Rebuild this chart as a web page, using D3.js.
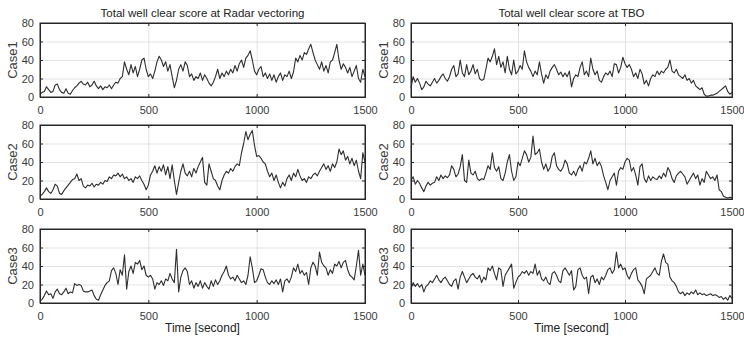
<!DOCTYPE html>
<html>
<head>
<meta charset="utf-8">
<script src="https://cdn.jsdelivr.net/npm/d3@7"></script>
<style>
  html, body { margin: 0; padding: 0; background: #fff; }
  svg { display: block; font-family: "Liberation Sans", Arial, sans-serif; }
</style>
</head>
<body>
<svg id="chart" width="744" height="338"></svg>
<script>
// Panel titles and row labels
const columnTitles = ['Total well clear score at Radar vectoring', 'Total well clear score at TBO'];
const caseLabels = ['Case1', 'Case2', 'Case3'];
const xTicks = [0, 500, 1000, 1500];
const yTicks = [0, 20, 40, 60, 80];
const xLabel = 'Time [second]';

// Samples, one every 10 s from 0 to 1500 s
const sampleStep = 10;

const radarCase1 = [3,5,6,11,8,5,6,13,14,8,5,4,9,4,3,7,10,12,15,17,14,13,16,11,13,17,12,9,12,8,
  11,10,13,9,13,16,15,20,22,38,30,24,35,26,33,22,30,40,42,30,22,25,20,28,38,44,40,33,38,28,
  35,22,10,18,30,35,28,38,34,22,25,18,22,20,26,18,24,20,15,12,16,22,30,20,26,22,28,24,30,26,
  34,28,36,40,32,42,45,50,40,28,24,30,33,22,26,20,25,18,24,16,22,26,18,24,22,28,20,27,42,38,
  45,40,48,46,52,57,48,40,35,30,38,28,34,26,38,40,48,57,40,30,36,32,26,32,22,28,34,20,16,30,22];

const tboCase1 = [10,22,16,20,15,8,11,17,14,12,16,20,15,18,22,25,20,17,22,30,34,22,25,40,26,22,35,24,28,35,
  25,30,20,18,19,30,42,38,44,52,35,44,32,38,26,44,30,24,40,25,28,34,30,50,38,32,28,22,28,24,
  38,25,15,24,20,28,32,35,30,24,27,22,26,22,28,11,20,24,22,32,38,24,28,22,42,30,24,28,18,16,
  22,26,24,28,22,36,35,26,32,43,36,32,35,30,22,26,20,30,25,14,18,12,20,24,22,28,24,28,26,30,
  32,40,28,26,30,24,22,20,24,18,20,15,18,12,10,8,10,3,1,1,2,2,3,4,6,8,10,12,6,3,5];

const radarCase2 = [3,5,8,12,8,6,10,16,14,6,5,9,12,15,18,21,22,27,20,22,14,12,15,14,17,13,16,15,18,16,
  20,19,24,22,26,25,28,24,27,22,24,20,22,18,24,22,25,20,16,10,15,26,30,36,28,35,30,37,26,35,
  22,37,20,5,18,30,38,28,25,30,24,33,28,35,40,45,18,15,38,30,22,20,14,10,20,26,30,28,33,30,
  35,38,36,50,60,73,64,70,74,58,46,47,44,40,38,30,24,28,20,26,18,12,18,14,22,26,20,28,24,32,
  25,20,22,18,24,22,26,28,25,30,34,38,32,36,30,38,34,40,54,48,52,42,46,38,44,36,42,30,22,50,40];

const tboCase2 = [20,24,16,20,17,12,8,14,18,15,17,18,24,20,26,22,25,23,26,36,32,24,27,35,48,20,18,42,28,26,
  30,22,20,22,21,28,36,32,50,34,30,35,22,20,28,40,48,30,20,24,40,36,44,52,48,40,45,68,48,50,
  54,40,32,38,30,34,46,50,36,32,30,34,42,38,28,26,30,25,32,36,30,40,38,44,52,38,44,36,40,35,
  25,18,10,20,24,28,15,30,34,32,40,44,42,30,34,26,15,35,38,22,18,25,20,24,22,21,25,22,28,24,
  34,30,22,18,25,28,30,27,24,16,20,24,28,22,26,15,22,18,30,26,22,24,20,26,10,8,3,2,1,2,1];

const radarCase3 = [2,4,8,13,9,10,5,12,15,10,9,12,16,10,12,11,21,19,20,19,13,12,12,13,14,8,4,3,9,14,
  19,22,24,35,38,32,20,36,30,52,15,34,40,32,44,42,46,36,40,30,28,30,26,15,22,20,24,19,26,24,
  32,26,22,58,12,28,35,38,34,20,24,16,22,18,24,16,22,18,15,24,18,25,20,24,30,34,40,30,26,28,
  24,30,26,22,24,20,30,50,38,22,24,30,37,36,28,22,20,24,21,25,20,26,12,24,26,22,28,38,34,42,
  32,35,30,33,20,38,44,40,30,55,44,40,38,30,36,32,42,40,45,38,44,46,36,30,28,25,40,57,30,42,30];

const tboCase3 = [15,22,18,21,17,20,12,18,20,24,22,26,30,25,22,26,28,24,20,18,24,26,15,28,34,28,22,26,30,32,
  28,26,30,22,28,25,38,35,40,32,25,38,36,18,30,34,38,42,16,22,28,30,34,32,35,30,34,32,42,30,
  35,26,24,28,22,20,32,34,30,24,22,35,38,34,30,35,14,18,36,38,30,26,28,10,28,30,22,26,20,28,
  25,30,36,38,32,36,55,38,42,36,38,30,26,32,36,38,25,22,18,10,26,28,30,34,38,32,30,45,53,44,
  42,28,24,22,18,12,10,12,8,11,9,12,10,14,9,11,9,10,8,9,10,8,9,8,6,7,4,6,3,8,5];

const panels = [
  { col: 0, row: 0, values: radarCase1 },
  { col: 1, row: 0, values: tboCase1 },
  { col: 0, row: 1, values: radarCase2 },
  { col: 1, row: 1, values: tboCase2 },
  { col: 0, row: 2, values: radarCase3 },
  { col: 1, row: 2, values: tboCase3 }
];

// Layout of the 2 x 3 grid (pixels)
const colLeft = [40, 411];
const colWidth = [325, 321];
const rowTop = [23, 125, 229];
const plotH = 74;

const axisColor = '#262626';
const gridColor = '#dcdcdc';
const lineColor = '#2e2e2e';
const textColor = '#3a3a3a';

const svg = d3.select('#chart');
const y = d3.scaleLinear().domain([0, 80]).range([plotH, 0]);

panels.forEach(p => {
  const plotW = colWidth[p.col];
  const x = d3.scaleLinear().domain([0, 1500]).range([0, plotW]);

  const g = svg.append('g')
    .attr('transform', `translate(${colLeft[p.col]},${rowTop[p.row]})`);

  // Grid lines
  g.append('g')
    .call(d3.axisBottom(x).tickValues(xTicks.slice(1, -1)).tickSize(plotH).tickFormat(''))
    .call(s => s.select('.domain').remove())
    .selectAll('line').attr('stroke', gridColor).attr('stroke-width', 0.8);
  g.append('g')
    .call(d3.axisRight(y).tickValues(yTicks.slice(1, -1)).tickSize(plotW).tickFormat(''))
    .call(s => s.select('.domain').remove())
    .selectAll('line').attr('stroke', gridColor).attr('stroke-width', 0.8);

  // Data line
  const line = d3.line()
    .x((d, i) => x(i * sampleStep))
    .y(d => y(d));
  g.append('path')
    .datum(p.values)
    .attr('fill', 'none')
    .attr('stroke', lineColor)
    .attr('stroke-width', 1.1)
    .attr('stroke-linejoin', 'round')
    .attr('d', line);

  // Axes with inward ticks on all four sides
  const xAxis = g.append('g')
    .attr('transform', `translate(0,${plotH})`)
    .call(d3.axisBottom(x).tickValues(xTicks).tickSize(-3).tickPadding(9).tickFormat(d3.format('d')));
  const yAxis = g.append('g')
    .call(d3.axisLeft(y).tickValues(yTicks).tickSize(-3).tickPadding(6));
  g.append('g')
    .attr('transform', `translate(${plotW},0)`)
    .call(d3.axisRight(y).tickValues(yTicks).tickSize(-3).tickFormat(''));
  g.append('g')
    .call(d3.axisTop(x).tickValues(xTicks).tickSize(-3).tickFormat(''));

  g.selectAll('.domain').attr('stroke', axisColor);
  g.selectAll('.tick line[stroke="currentColor"]').attr('stroke', axisColor);
  [xAxis, yAxis].forEach(a => a.selectAll('text')
    .attr('fill', textColor)
    .style('font-size', '11px'));

  // Box outline
  g.append('rect')
    .attr('width', plotW).attr('height', plotH)
    .attr('fill', 'none').attr('stroke', axisColor).attr('stroke-width', 1);

  // Row label
  g.append('text')
    .attr('transform', `translate(-23,${plotH / 2}) rotate(-90)`)
    .attr('text-anchor', 'middle')
    .attr('fill', textColor)
    .style('font-size', '13px')
    .text(caseLabels[p.row]);

  if (p.row === 0) {
    g.append('text')
      .attr('x', plotW / 2).attr('y', -6)
      .attr('text-anchor', 'middle')
      .attr('fill', '#222')
      .style('font-size', '11.5px')
      .text(columnTitles[p.col]);
  }
  if (p.row === 2) {
    g.append('text')
      .attr('x', plotW / 2).attr('y', plotH + 29)
      .attr('text-anchor', 'middle')
      .attr('fill', '#222')
      .style('font-size', '12px')
      .text(xLabel);
  }
});
</script>
</body>
</html>
